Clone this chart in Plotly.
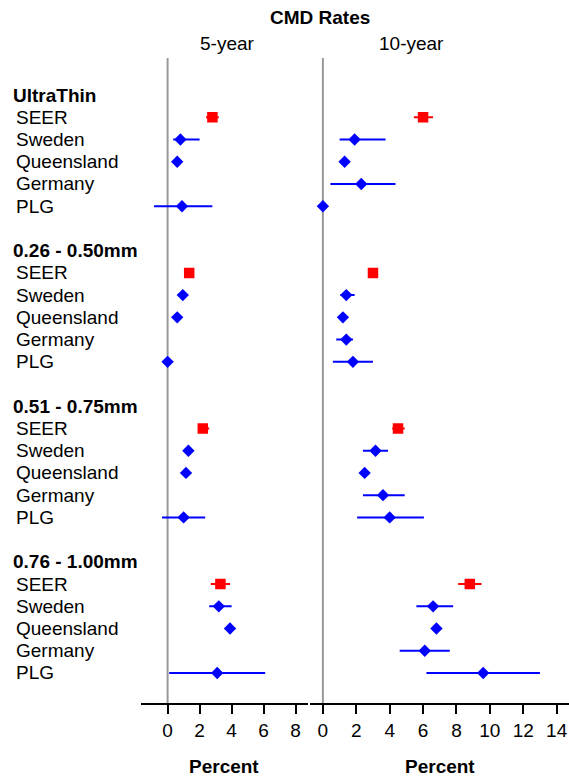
import plotly.graph_objects as go

groups = ["UltraThin", "0.26 - 0.50mm", "0.51 - 0.75mm", "0.76 - 1.00mm"]
sources = ["SEER", "Sweden", "Queensland", "Germany", "PLG"]

# 5-year CMD rates (%), one list per group in the order of `sources`
rate5 = [[2.8, 0.8, 0.6, None, 0.9],
         [1.35, 0.95, 0.6, None, 0.0],
         [2.2, 1.3, 1.15, None, 1.0],
         [3.3, 3.2, 3.9, None, 3.1]]
low5 = [[2.4, 0.35, 0.4, None, -0.85],
        [1.15, 0.8, 0.45, None, 0.0],
        [1.9, 1.1, 0.95, None, -0.35],
        [2.7, 2.6, 3.65, None, 0.1]]
high5 = [[3.2, 2.0, 0.85, None, 2.8],
         [1.55, 1.1, 0.75, None, 0.0],
         [2.6, 1.5, 1.35, None, 2.35],
         [3.9, 4.0, 4.15, None, 6.1]]

# 10-year CMD rates (%)
rate10 = [[6.0, 1.9, 1.3, 2.3, 0.0],
          [3.0, 1.4, 1.2, 1.4, 1.8],
          [4.5, 3.15, 2.5, 3.6, 4.0],
          [8.8, 6.6, 6.8, 6.1, 9.6]]
low10 = [[5.45, 1.0, 1.05, 0.45, 0.0],
         [2.8, 1.05, 1.0, 0.8, 0.6],
         [4.15, 2.4, 2.25, 2.4, 2.05],
         [8.1, 5.6, 6.55, 4.6, 6.2]]
high10 = [[6.6, 3.75, 1.55, 4.35, 0.0],
          [3.2, 1.9, 1.4, 1.8, 3.0],
          [4.9, 3.9, 2.75, 4.9, 6.05],
          [9.5, 7.8, 7.05, 7.6, 13.0]]

ticks5 = [0, 2, 4, 6, 8]
ticks10 = [0, 2, 4, 6, 8, 10, 12, 14]

W, H = 569, 779
RED, BLUE = "#FF0000", "#0000FF"
FONT = "Liberation Sans, Arial, sans-serif"

fig = go.Figure()


def add_panel(rate, low, high, xa, ya):
    for is_seer in (True, False):
        xs, ys, ep, em = [], [], [], []
        for g in range(len(groups)):
            for s in range(len(sources)):
                if (s == 0) != is_seer:
                    continue
                v = rate[g][s]
                if v is None:
                    continue
                xs.append(v)
                ys.append(g * 7 + 1 + s)
                ep.append(high[g][s] - v)
                em.append(v - low[g][s])
        col = RED if is_seer else BLUE
        fig.add_trace(go.Scatter(
            x=xs, y=ys, mode="markers", xaxis=xa, yaxis=ya,
            marker=dict(symbol="square" if is_seer else "diamond",
                        size=10.5 if is_seer else 9.5, color=col,
                        line=dict(width=0)),
            error_x=dict(type="data", array=ep, arrayminus=em, symmetric=False,
                         color=col, thickness=2, width=0),
            showlegend=False, hoverinfo="x+y"))


add_panel(rate5, low5, high5, "x", "y")
add_panel(rate10, low10, high10, "x2", "y2")

# row labels
for g, name in enumerate(groups):
    fig.add_annotation(x=11 / W, y=g * 7, xref="paper", yref="y", text="<b>%s</b>" % name,
                       showarrow=False, xanchor="left", yanchor="middle",
                       font=dict(size=19, color="black", family=FONT))
    for s, src in enumerate(sources):
        fig.add_annotation(x=14 / W, y=g * 7 + 1 + s, xref="paper", yref="y", text=src,
                           showarrow=False, xanchor="left", yanchor="middle",
                           font=dict(size=19, color="black", family=FONT))

T, B = 58, 76
ph = H - T - B


def py(pix):
    return (H - B - pix) / ph


def label(xpix, ypix, text):
    fig.add_annotation(x=xpix / W, y=py(ypix), xref="paper", yref="paper", text=text,
                       showarrow=False, xanchor="center", yanchor="middle",
                       font=dict(size=19, color="black", family=FONT))


label(320, 18, "<b>CMD Rates</b>")
label(227, 44, "5-year")
label(411, 44, "10-year")
label(224, 766, "<b>Percent</b>")
label(440, 766, "<b>Percent</b>")

for xr in ("x", "x2"):
    fig.add_shape(type="line", xref=xr, yref="paper", x0=0, x1=0, y0=0, y1=1,
                  line=dict(color="#999999", width=2), layer="below")

axis_common = dict(showgrid=False, zeroline=False, showline=True, linecolor="black",
                   linewidth=2, ticks="outside", ticklen=9, tickwidth=2, tickcolor="black",
                   tickfont=dict(size=19, color="black", family=FONT), fixedrange=True)

yr = [27.35, -1.668]
fig.update_layout(
    width=W, height=H,
    margin=dict(l=0, r=0, t=T, b=B, pad=0),
    paper_bgcolor="white", plot_bgcolor="white",
    xaxis=dict(domain=[140.8 / W, 307.7 / W], range=[-1.675, 8.756], tickvals=ticks5,
               **axis_common),
    xaxis2=dict(domain=[309.5 / W, 1.0], range=[-0.802, 14.74], tickvals=ticks10,
                anchor="y2", **axis_common),
    yaxis=dict(range=yr, visible=False, fixedrange=True),
    yaxis2=dict(range=yr, visible=False, anchor="x2", fixedrange=True),
    showlegend=False,
)

fig.write_html("out.html", config={"displayModeBar": False},
               post_script="document.body.style.margin='0';")
